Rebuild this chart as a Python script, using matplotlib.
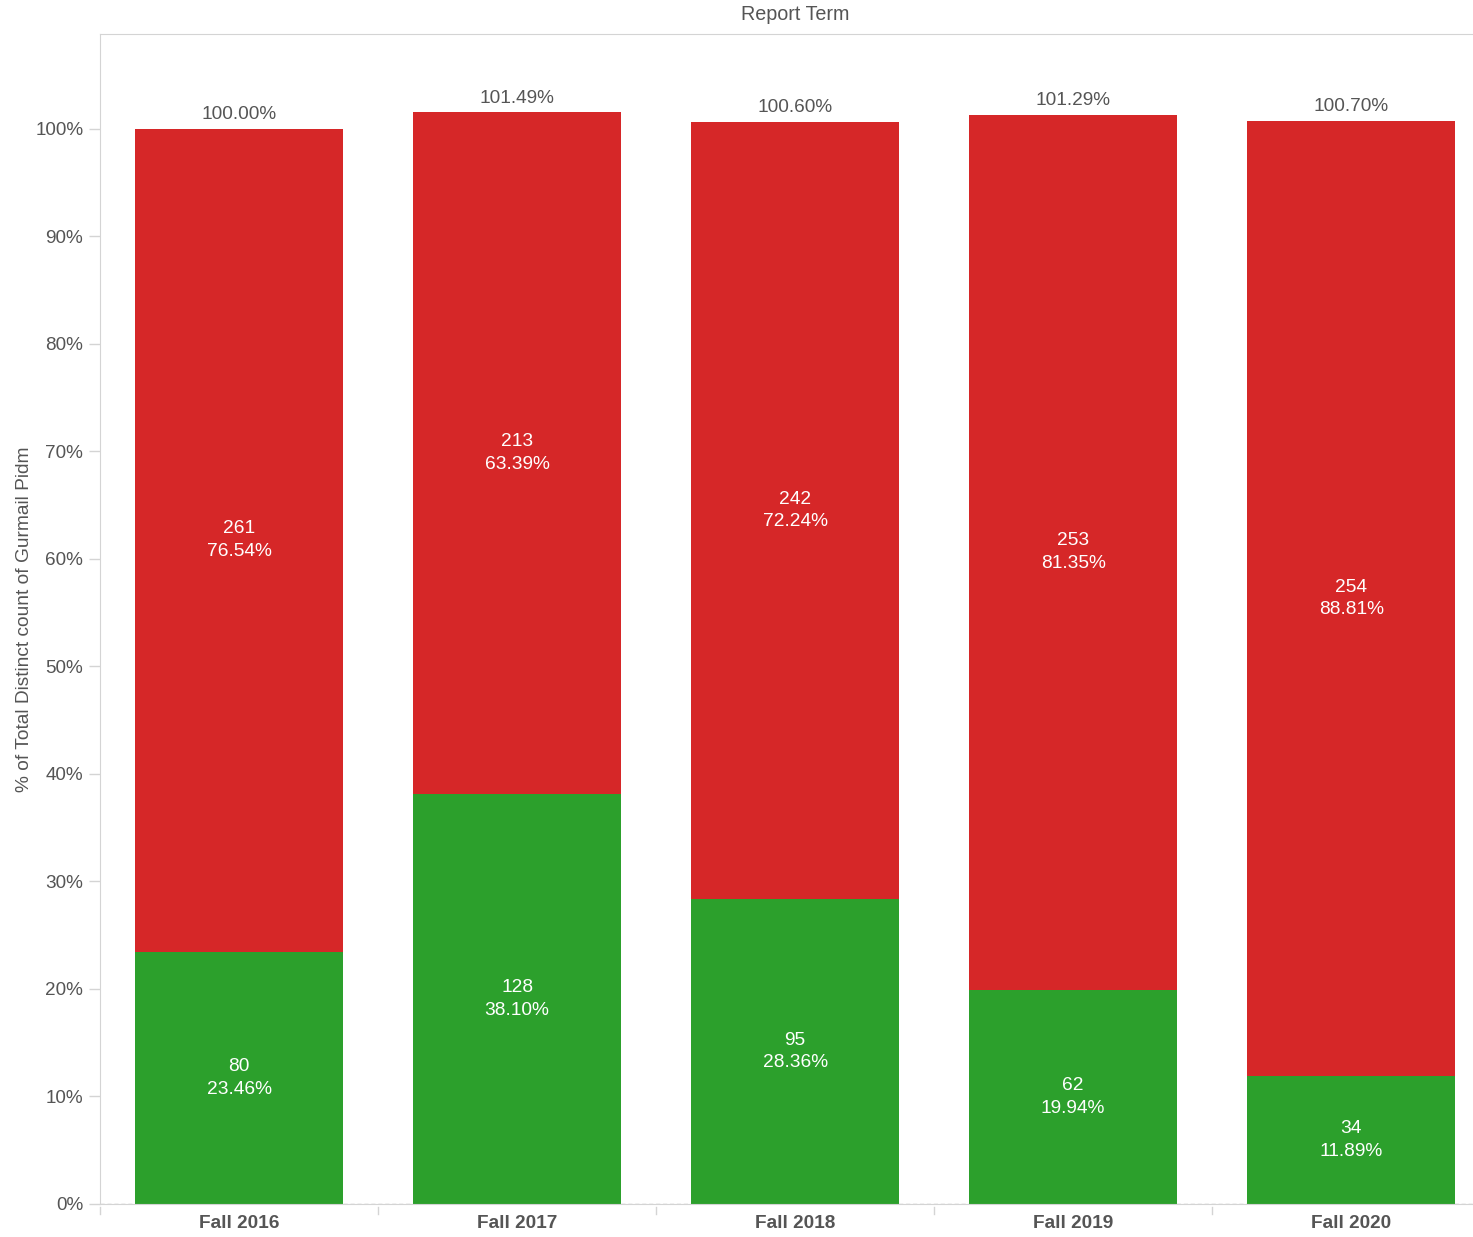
import matplotlib.pyplot as plt

plt.rcParams['font.family'] = ['Liberation Sans', 'DejaVu Sans']

terms = ['Fall 2016', 'Fall 2017', 'Fall 2018', 'Fall 2019', 'Fall 2020']
green_counts = [80, 128, 95, 62, 34]
green_pct = [23.46, 38.10, 28.36, 19.94, 11.89]
red_counts = [261, 213, 242, 253, 254]
red_pct = [76.54, 63.39, 72.24, 81.35, 88.81]
totals = ['100.00%', '101.49%', '100.60%', '101.29%', '100.70%']

GREEN = '#2ca02c'
RED = '#d62728'
GREY = '#555555'
LINE = '#d4d4d4'

fig = plt.figure(figsize=(14.73, 12.37), dpi=100)
ax = fig.add_axes([100 / 1473, 1 - 1204 / 1237, 1 - 100 / 1473, (1204 - 34) / 1237])

x = list(range(len(terms)))
ax.bar(x, green_pct, width=0.75, color=GREEN, zorder=2)
ax.bar(x, red_pct, width=0.75, bottom=green_pct, color=RED, zorder=2)

for i in x:
    g = green_pct[i]
    r = red_pct[i]
    ax.text(i, g / 2, f'{green_counts[i]}\n{g:.2f}%', ha='center', va='center',
            color='white', fontsize=13.8, linespacing=1.45, zorder=3)
    ax.text(i, g + r / 2, f'{red_counts[i]}\n{r:.2f}%', ha='center', va='center',
            color='white', fontsize=13.8, linespacing=1.45, zorder=3)
    ax.text(i, g + r + 0.55, totals[i], ha='center', va='bottom',
            color=GREY, fontsize=13.7, zorder=3)

ax.set_xlim(-0.5, 4.438)
ax.set_ylim(0, 1170 / 1075.5 * 100)
ax.set_yticks(range(0, 101, 10))
ax.set_yticklabels([f'{v}%' for v in range(0, 101, 10)])
ax.set_xticks(x)
ax.set_xticklabels(terms, fontweight='bold')
ax.tick_params(axis='y', colors=LINE, labelcolor=GREY, labelsize=13.6, length=8, width=1, pad=4)
ax.tick_params(axis='x', length=0, labelcolor=GREY, labelsize=13.7, pad=8)

# column separators below the axis
for b in [-0.5, 0.5, 1.5, 2.5, 3.5]:
    ax.plot([b, b], [-0.3, -0.9], color=LINE, lw=1, clip_on=False)

ax.axhline(0, color='#bbbbbb', lw=1, ls=(0, (3, 2)), zorder=1)

for side in ['left', 'top', 'bottom']:
    ax.spines[side].set_color(LINE)
ax.spines['right'].set_visible(False)

ax.set_ylabel('% of Total Distinct count of Gurmail Pidm', color=GREY, fontsize=13.8, labelpad=1.5)
ax.text(2.0, 1 + 10 / 1170, 'Report Term', transform=ax.get_xaxis_transform(), ha='center',
        va='bottom', color=GREY, fontsize=14.2, clip_on=False)

fig.savefig('out.png', dpi=100)
